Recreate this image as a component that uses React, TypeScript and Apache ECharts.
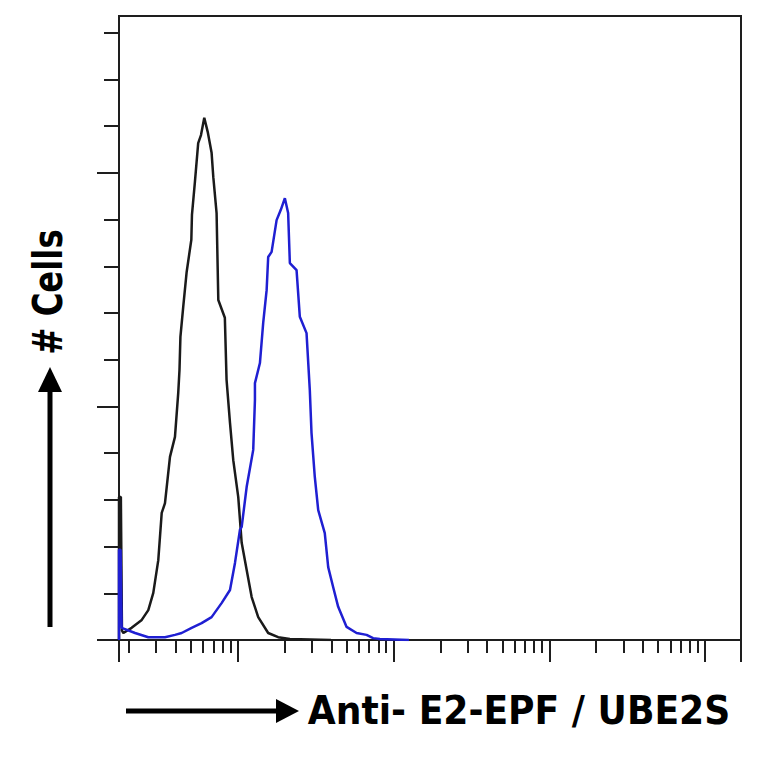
import React, { useEffect, useRef } from "react";
import * as echarts from "echarts";

// log10 of fluorescence intensity (x) and cell counts (y, arbitrary units)
const controlLogIntensity = [0.24, 0.24, 0.252, 0.259, 0.268, 0.321, 0.386, 0.428, 0.46, 0.492, 0.514, 0.535, 0.567, 0.599, 0.62, 0.628, 0.634, 0.652, 0.674, 0.704, 0.708, 0.727, 0.748, 0.766, 0.787, 0.809, 0.834, 0.845, 0.866, 0.877, 0.919, 0.93, 0.952, 0.973, 1.005, 1.027, 1.059, 1.091, 1.133, 1.197, 1.261, 1.336, 1.6];
const controlCounts = [0, 3.06, 3.06, 0.2, 0.15, 0.26, 0.43, 0.64, 1.01, 1.71, 2.72, 2.93, 3.92, 4.35, 5.29, 5.78, 6.49, 7.13, 7.88, 8.57, 9.1, 9.81, 10.64, 10.81, 11.18, 10.88, 10.43, 9.91, 9.14, 7.28, 6.9, 5.57, 4.65, 3.85, 3.06, 2.08, 1.5, 0.92, 0.49, 0.15, 0.06, 0.02, 0];

const ube2sLogIntensity = [0.24, 0.24, 0.25, 0.257, 0.343, 0.428, 0.535, 0.599, 0.642, 0.706, 0.77, 0.834, 0.898, 0.952, 0.984, 1.016, 1.027, 1.059, 1.101, 1.112, 1.112, 1.144, 1.165, 1.187, 1.197, 1.219, 1.251, 1.278, 1.304, 1.325, 1.336, 1.379, 1.4, 1.443, 1.464, 1.475, 1.496, 1.518, 1.56, 1.582, 1.614, 1.646, 1.7, 1.764, 1.828, 1.87, 1.913, 2.1];
const ube2sCounts = [0, 1.93, 1.93, 0.26, 0.15, 0.06, 0.06, 0.11, 0.15, 0.26, 0.36, 0.49, 0.79, 1.07, 1.65, 2.36, 2.42, 3.28, 4.07, 5.14, 5.5, 5.93, 6.79, 7.49, 8.2, 8.31, 8.99, 9.21, 9.46, 9.14, 8.07, 7.92, 6.92, 6.57, 5.35, 4.43, 3.49, 2.78, 2.29, 1.56, 1.13, 0.71, 0.28, 0.15, 0.11, 0.04, 0.02, 0];

const xMin = 0.24;
const xMax = 4.23;
const decades = [1, 2, 3, 4];
const minorMultipliers = [2, 3, 4, 5, 6, 7, 8, 9];
const yMax = 13.36;
const yMinorTicks = [0, 1, 2, 3, 4, 5, 6, 7, 8, 9, 10, 11, 12, 13];
const yMajorTicks = [0, 5, 10];

const xAxisTitle = "Anti- E2-EPF / UBE2S";
const yAxisTitle = "# Cells";

export default function App() {
  const ref = useRef<HTMLDivElement>(null);
  useEffect(() => {
    if (!ref.current) return;
    const chart = echarts.init(ref.current, null, { renderer: "svg" });
    const xMinor: number[] = [];
    for (let d = 0; d <= 4; d++) {
      for (const k of minorMultipliers) {
        const v = d + Math.log10(k);
        if (v > xMin && v < xMax) xMinor.push(v);
      }
    }
    const xMajor = [xMin, ...decades, xMax];
    const axisColor = "#1e1e1e";
    const lineStyle = { color: axisColor, width: 2 };
    const pairs = (xs: number[], ys: number[]) => xs.map((x, i) => [x, ys[i]]);
    chart.setOption({
      animation: false,
      backgroundColor: "#ffffff",
      grid: { left: 119, top: 16, right: 23, bottom: 124, show: true, borderColor: axisColor, borderWidth: 2, backgroundColor: "transparent" },
      xAxis: [
        {
          type: "value", min: xMin, max: xMax, position: "bottom",
          axisLine: { show: true, onZero: false, lineStyle },
          axisTick: { show: true, customValues: xMinor, length: 13, lineStyle },
          axisLabel: { show: false }, splitLine: { show: false },
        },
        {
          type: "value", min: xMin, max: xMax, position: "bottom",
          axisLine: { show: false },
          axisTick: { show: true, customValues: xMajor, length: 22, lineStyle },
          axisLabel: { show: false }, splitLine: { show: false },
        },
      ],
      yAxis: [
        {
          type: "value", min: 0, max: yMax, position: "left",
          axisLine: { show: true, onZero: false, lineStyle },
          axisTick: { show: true, customValues: yMinorTicks, length: 15, lineStyle },
          axisLabel: { show: false }, splitLine: { show: false },
        },
        {
          type: "value", min: 0, max: yMax, position: "left",
          axisLine: { show: false },
          axisTick: { show: true, customValues: yMajorTicks, length: 22, lineStyle },
          axisLabel: { show: false }, splitLine: { show: false },
        },
      ],
      series: [
        {
          type: "line", name: "Isotype control", xAxisIndex: 0, yAxisIndex: 0,
          data: pairs(controlLogIntensity, controlCounts), showSymbol: false,
          lineStyle: { color: "#1a1a1a", width: 2.5 }, z: 3,
        },
        {
          type: "line", name: "UBE2S", xAxisIndex: 0, yAxisIndex: 0,
          data: pairs(ube2sLogIntensity, ube2sCounts), showSymbol: false,
          lineStyle: { color: "#1f1fd2", width: 2.5 }, z: 4,
        },
      ],
      graphic: [
        { type: "line", shape: { x1: 50, y1: 627, x2: 50, y2: 388 }, style: { stroke: "#000", lineWidth: 5 } },
        { type: "polygon", shape: { points: [[38, 392], [62, 392], [50, 367]] }, style: { fill: "#000" } },
        { type: "line", shape: { x1: 126, y1: 711, x2: 280, y2: 711 }, style: { stroke: "#000", lineWidth: 5 } },
        { type: "polygon", shape: { points: [[276, 699], [276, 723], [299, 711]] }, style: { fill: "#000" } },
        {
          type: "text", x: 48, y: 292, rotation: Math.PI / 2, scaleX: 0.98, scaleY: 1.22,
          style: { text: yAxisTitle, fill: "#000", fontFamily: "DejaVu Sans", fontWeight: "bold", fontSize: 33, textAlign: "center", textVerticalAlign: "middle" },
        },
        {
          type: "text", x: 519, y: 710, scaleX: 0.99, scaleY: 1.08,
          style: { text: xAxisTitle, fill: "#000", fontFamily: "DejaVu Sans", fontWeight: "bold", fontSize: 36.5, textAlign: "center", textVerticalAlign: "middle" },
        },
      ],
    });
    return () => chart.dispose();
  }, []);
  return <div ref={ref} style={{ position: "absolute", left: 0, top: 0, width: 764, height: 764 }} />;
}
